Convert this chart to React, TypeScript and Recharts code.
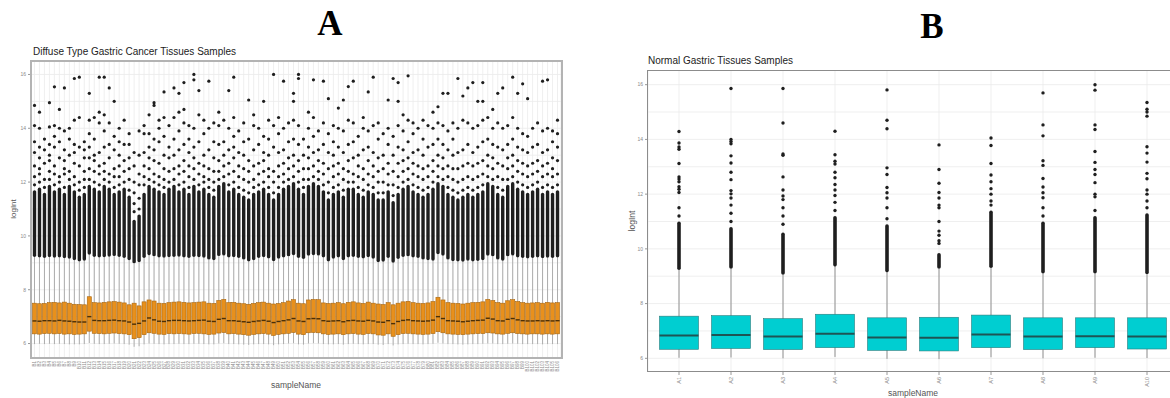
import { ComposedChart, Bar, XAxis, YAxis, CartesianGrid } from "recharts";

// ---------- panel A: diffuse type gastric cancer (106 samples) ----------
const aNames = [
  "B1","B2","B3","B4","B5","B6","B7","B8","B9","B10",
  "B11","B12","B13","B14","B15","B16","B17","B18","B19","B20",
  "B21","B22","B23","B24","B25","B26","B27","B28","B29","B30",
  "B31","B32","B33","B34","B35","B36","B37","B38","B39","B40",
  "B41","B42","B43","B44","B45","B46","B47","B48","B49","B50",
  "B51","B52","B53","B54","B55","B56","B57","B58","B59","B60",
  "B61","B62","B63","B64","B65","B66","B67","B68","B69","B70",
  "B71","B72","B73","B74","B75","B76","B77","B78","B79","B80",
  "B81","B82","B83","B84","B85","B86","B87","B88","B89","B90",
  "B91","B92","B93","B94","B95","B96","B97","B98","B99","B100",
  "B101","B102","B103","B104","B105","B106",
];
const aLow = [
  5.98,5.99,5.98,5.99,5.98,5.99,5.98,5.97,5.97,5.97,
  5.98,6.02,5.99,5.98,5.98,5.99,6.0,5.99,5.98,5.96,
  5.88,5.9,5.97,6.0,5.99,5.98,5.97,5.98,5.98,5.99,
  5.98,5.98,5.99,5.99,5.98,5.97,5.97,6.0,6.01,5.98,
  5.98,5.97,5.96,5.95,5.97,5.98,5.98,5.97,5.94,5.97,
  5.98,6.0,6.01,5.97,5.96,6.0,6.01,6.0,5.98,5.97,
  5.97,5.98,5.96,5.98,5.99,5.98,5.97,5.98,5.98,5.96,
  5.95,5.98,5.93,5.97,5.98,5.99,5.98,5.98,5.97,5.98,
  5.99,6.03,6.0,5.98,5.98,5.97,5.96,5.97,5.98,5.98,
  5.99,6.0,6.0,5.98,5.98,5.99,6.0,5.99,5.98,5.98,
  5.98,5.98,5.97,5.98,5.98,5.98,
];
const aQ1 = [
  6.36,6.35,6.37,6.38,6.36,6.37,6.35,6.36,6.34,6.35,
  6.36,6.46,6.38,6.37,6.36,6.38,6.39,6.37,6.36,6.33,
  6.18,6.22,6.33,6.4,6.38,6.35,6.34,6.37,6.36,6.37,
  6.36,6.35,6.37,6.38,6.36,6.34,6.35,6.39,6.41,6.36,
  6.37,6.35,6.33,6.31,6.34,6.36,6.37,6.35,6.3,6.34,
  6.36,6.38,6.41,6.35,6.33,6.4,6.41,6.4,6.36,6.34,
  6.35,6.36,6.33,6.36,6.37,6.35,6.34,6.37,6.36,6.32,
  6.31,6.36,6.27,6.33,6.37,6.38,6.36,6.35,6.34,6.35,
  6.37,6.44,6.4,6.36,6.35,6.34,6.33,6.35,6.36,6.37,
  6.37,6.4,6.39,6.36,6.35,6.38,6.4,6.37,6.36,6.35,
  6.36,6.36,6.35,6.36,6.35,6.36,
];
const aMed = [
  6.84,6.83,6.85,6.85,6.84,6.86,6.84,6.83,6.81,6.8,
  6.8,7.0,6.86,6.85,6.85,6.86,6.87,6.85,6.84,6.8,
  6.72,6.75,6.84,6.95,6.88,6.83,6.82,6.85,6.86,6.86,
  6.85,6.84,6.85,6.86,6.87,6.83,6.82,6.9,6.93,6.85,
  6.85,6.83,6.81,6.79,6.82,6.84,6.86,6.83,6.78,6.82,
  6.85,6.88,6.93,6.84,6.82,6.92,6.93,6.92,6.85,6.83,
  6.84,6.85,6.81,6.85,6.86,6.84,6.83,6.86,6.84,6.8,
  6.79,6.85,6.74,6.82,6.86,6.88,6.85,6.84,6.83,6.84,
  6.87,7.0,6.93,6.85,6.84,6.83,6.81,6.83,6.85,6.86,
  6.87,6.94,6.91,6.85,6.84,6.9,6.93,6.88,6.85,6.84,
  6.84,6.85,6.84,6.85,6.84,6.85,
];
const aQ3 = [
  7.5,7.48,7.49,7.52,7.53,7.51,7.54,7.5,7.46,7.45,
  7.44,7.74,7.52,7.51,7.53,7.55,7.56,7.54,7.51,7.44,
  7.5,7.4,7.55,7.62,7.58,7.5,7.49,7.52,7.54,7.55,
  7.53,7.51,7.52,7.54,7.55,7.5,7.49,7.6,7.64,7.52,
  7.53,7.5,7.48,7.46,7.49,7.52,7.54,7.5,7.47,7.49,
  7.52,7.58,7.63,7.5,7.48,7.62,7.64,7.63,7.51,7.49,
  7.5,7.52,7.48,7.53,7.55,7.51,7.49,7.54,7.5,7.47,
  7.45,7.52,7.44,7.5,7.55,7.57,7.52,7.5,7.49,7.51,
  7.56,7.72,7.62,7.52,7.5,7.49,7.47,7.5,7.52,7.53,
  7.55,7.64,7.6,7.52,7.5,7.59,7.63,7.56,7.52,7.5,
  7.51,7.52,7.5,7.53,7.51,7.52,
];
const aHigh = [
  9.22,9.2,9.18,9.21,9.19,9.2,9.17,9.15,9.1,9.05,
  9.08,9.3,9.22,9.2,9.21,9.23,9.25,9.22,9.18,9.1,
  8.98,9.02,9.18,9.28,9.24,9.2,9.19,9.21,9.22,9.23,
  9.2,9.18,9.22,9.21,9.19,9.12,9.1,9.25,9.27,9.2,
  9.21,9.18,9.12,9.05,9.1,9.18,9.21,9.16,9.06,9.15,
  9.2,9.24,9.28,9.18,9.14,9.26,9.28,9.27,9.2,9.05,
  9.15,9.2,9.1,9.2,9.22,9.18,9.16,9.21,9.15,9.02,
  9.04,9.18,9.0,9.14,9.22,9.24,9.2,9.18,9.12,9.1,
  9.08,9.32,9.26,9.12,9.06,9.05,9.04,9.08,9.05,9.07,
  9.1,9.26,9.24,9.12,9.08,9.24,9.27,9.2,9.18,9.16,
  9.18,9.2,9.17,9.19,9.18,9.2,
];
// top of the solid run of outliers above each whisker
const aDense = [
  11.7,11.8,11.6,11.9,11.7,11.8,11.6,11.9,11.7,11.5,
  11.6,11.9,11.8,11.7,11.9,11.8,11.6,11.7,11.8,11.5,
  10.6,10.8,11.6,11.9,11.8,11.7,11.6,11.8,11.9,11.7,
  11.8,11.6,11.9,11.7,11.8,11.6,11.5,11.9,12.0,11.7,
  11.8,11.6,11.5,11.4,11.6,11.7,11.8,11.6,11.4,11.6,
  11.8,11.9,12.0,11.8,11.6,11.9,12.0,11.9,11.7,11.4,
  11.6,11.7,11.5,11.8,11.8,11.6,11.5,11.7,11.6,11.4,
  11.4,11.7,11.3,11.6,11.8,11.9,11.7,11.6,11.5,11.6,
  11.8,12.0,11.9,11.6,11.5,11.4,11.5,11.6,11.5,11.6,
  11.7,12.0,11.9,11.6,11.5,11.9,12.0,11.8,11.7,11.6,
  11.7,11.8,11.6,11.7,11.6,11.7,
];
// scattered outliers above the solid run
const aOut = [
  [11.9,12.2,12.6,13.1,13.5,14.1,14.85],
  [12.0,12.3,12.5,12.9,13.3,14.0,14.6],
  [11.8,12.1,12.7,13.2,13.6],
  [12.1,12.4,12.8,13.0,13.4,14.05,14.95],
  [11.9,12.3,12.6,13.3,13.7,14.1,15.54],
  [12.0,12.2,12.9,13.5,14.0,14.7],
  [11.8,12.3,12.5,12.8,13.2,13.9,15.5],
  [12.1,12.4,13.0,13.6,14.0],
  [11.9,12.2,12.7,13.1,13.4,14.3,15.85],
  [11.7,12.0,12.6,13.3,14.4,15.9],
  [11.8,12.1,12.4,12.9,13.2,13.5],
  [12.1,12.5,12.9,13.3,13.8,14.3,15.3],
  [12.0,12.4,12.8,13.0,13.6,14.4],
  [11.9,12.3,12.6,13.1,14.2,14.6,15.9],
  [12.1,12.4,12.7,13.3,13.9,14.5,15.9],
  [12.0,12.3,12.9,13.4,14.2,15.5],
  [11.8,12.2,12.5,13.2,13.7,15.0],
  [11.9,12.2,12.6,13.0,13.5,14.0],
  [12.0,12.4,12.8,13.4,14.3],
  [11.7,12.1,12.5,12.9,13.4,13.8],
  [10.9,11.2,11.6,12.0,12.6,13.1],
  [11.0,11.4,11.9,12.3,13.0,13.9],
  [11.9,12.2,12.6,13.1,13.8,14.1],
  [12.1,12.5,12.9,13.3,13.8,14.5],
  [12.0,12.3,12.8,13.2,13.6,14.85,14.95],
  [11.9,12.2,12.7,13.5,14.0,14.3],
  [11.8,12.1,12.5,13.0,13.7,14.4,15.35],
  [12.0,12.4,12.9,13.3,14.1],
  [12.1,12.5,13.0,13.6,14.4,15.5],
  [11.9,12.3,12.6,13.2,13.9,14.6,15.3],
  [12.0,12.4,12.8,13.4,14.2,14.7,15.7],
  [11.8,12.2,12.6,13.1,13.6,14.1],
  [12.1,12.5,12.9,13.3,14.0,15.8,16.0],
  [11.9,12.3,12.7,13.5,14.5,15.4],
  [12.0,12.2,12.6,13.0,13.8,14.3],
  [11.8,12.1,12.5,13.2,14.0,15.75],
  [11.7,12.0,12.4,12.9,13.5,14.2],
  [12.1,12.4,12.8,13.4,14.1,14.6],
  [12.2,12.6,13.0,13.5,14.3],
  [11.9,12.3,12.7,13.2,14.0,15.4],
  [12.0,12.4,12.9,13.3,13.7,14.4,15.9],
  [11.8,12.2,12.6,13.1,13.9],
  [11.7,12.1,12.5,13.0,13.5,14.2],
  [11.6,12.0,12.4,12.8,13.6,15.05],
  [11.8,12.1,12.6,13.2,14.1,14.5],
  [11.9,12.3,12.7,13.4,14.0],
  [12.0,12.4,12.8,13.1,13.7,15.0],
  [11.8,12.2,12.5,13.0,13.6,14.3],
  [11.6,12.0,12.4,13.3,14.1,16.0],
  [11.8,12.2,12.6,13.1,13.8,14.4],
  [12.0,12.3,12.7,13.2,14.0,15.75],
  [12.1,12.5,12.9,13.5,14.2],
  [12.2,12.6,13.0,13.6,14.3,15.0,15.3],
  [12.0,12.4,12.8,13.4,14.1,15.85,16.0],
  [11.8,12.1,12.5,13.0,13.6],
  [12.1,12.5,12.9,13.3,14.0,14.6],
  [12.2,12.6,13.1,13.7,14.4,15.8],
  [12.1,12.4,12.8,13.2,13.9],
  [11.9,12.3,12.7,13.4,14.2,15.75],
  [11.6,12.0,12.5,13.1,13.8,15.1],
  [11.8,12.2,12.6,13.0,13.5,14.1],
  [11.9,12.3,12.7,13.3,14.0,14.75],
  [11.7,12.1,12.5,13.1,13.9,15.05],
  [12.0,12.4,12.8,13.4,14.3,15.55],
  [12.0,12.3,12.9,13.5,14.2,15.75],
  [11.8,12.2,12.6,13.0,13.7],
  [11.7,12.1,12.5,13.2,14.0,14.4],
  [11.9,12.3,12.8,13.3,13.9,15.35],
  [11.8,12.2,12.6,13.1,14.1,15.9],
  [11.6,12.0,12.4,12.9,13.6,14.2],
  [11.6,12.0,12.5,13.0,13.8],
  [11.9,12.3,12.7,13.4,14.0,15.05],
  [11.5,11.9,12.4,13.0,13.7,15.85],
  [11.8,12.2,12.7,13.3,14.1,15.0,15.7],
  [12.0,12.4,12.8,13.2,13.9,14.5],
  [12.1,12.5,12.9,13.5,14.3,15.95],
  [11.9,12.3,12.7,13.1,13.8,14.2],
  [11.8,12.2,12.6,13.2,14.0],
  [11.7,12.1,12.5,13.0,13.6,14.3],
  [11.8,12.2,12.6,13.3,14.1],
  [12.0,12.4,12.8,13.4,14.0,14.6],
  [12.2,12.6,13.0,13.6,14.2,14.8],
  [12.1,12.5,12.9,13.4,14.1,15.3],
  [11.8,12.2,12.6,13.2,13.9,15.3],
  [11.7,12.1,12.5,13.0,13.6,14.2],
  [11.6,12.0,12.5,13.1,14.0,15.85],
  [11.7,12.1,12.6,13.2,14.3,15.2],
  [11.8,12.2,12.7,13.4,14.2,15.5],
  [11.7,12.1,12.6,13.1,14.0,15.7],
  [11.8,12.2,12.7,13.3,14.1,15.0],
  [11.9,12.3,12.8,13.5,14.3,15.0,15.7],
  [12.2,12.6,13.0,13.6,14.4],
  [12.1,12.5,12.9,13.4,14.0,14.7],
  [11.8,12.2,12.7,13.3,14.2,15.3],
  [11.7,12.1,12.6,13.2,14.0,15.5],
  [12.1,12.5,12.9,13.4,14.1],
  [12.2,12.6,13.0,13.6,14.4,15.9],
  [12.0,12.4,12.8,13.3,14.0,15.3],
  [11.9,12.3,12.7,13.2,13.8,15.65],
  [11.8,12.2,12.6,13.1,13.7,15.1],
  [11.9,12.3,12.7,13.3,14.0],
  [12.0,12.4,12.8,13.4,14.2],
  [11.8,12.2,12.6,13.1,13.9,15.75],
  [11.9,12.3,12.7,13.2,14.0,15.8],
  [11.8,12.2,12.5,12.9,13.5,13.9],
  [11.9,12.3,12.8,13.3,13.8,14.3],
];

// ---------- panel B: normal gastric tissue (10 samples) ----------
const bNames = ["A1", "A2", "A3", "A4", "A5", "A6", "A7", "A8", "A9", "A10"];
const bLow = [6.02, 6.03, 6.0, 6.05, 5.98, 5.97, 6.04, 6.0, 6.02, 6.01];
const bQ1 = [6.33, 6.36, 6.32, 6.39, 6.29, 6.27, 6.39, 6.32, 6.39, 6.34];
const bMed = [6.83, 6.85, 6.8, 6.9, 6.76, 6.75, 6.87, 6.8, 6.81, 6.8];
const bQ3 = [7.54, 7.56, 7.45, 7.61, 7.48, 7.5, 7.58, 7.48, 7.48, 7.48];
const bHigh = [9.23, 9.27, 9.05, 9.35, 9.14, 9.27, 9.3, 9.1, 9.1, 9.07];
const bDense = [11.0, 10.8, 10.6, 11.2, 10.9, 9.85, 11.4, 11.0, 11.2, 11.3];
const bOut = [
  [11.2, 11.5, 12.06, 12.18, 12.27, 12.45, 12.55, 12.63, 13.12, 13.64, 13.72, 13.87, 14.29],
  [11.0, 11.3, 11.6, 11.86, 12.01, 12.13, 12.53, 12.8, 13.14, 13.4, 13.84, 13.92, 14.0, 15.86],
  [10.9, 11.2, 11.5, 11.8, 11.93, 12.15, 12.63, 13.42, 13.47, 14.6, 15.86],
  [11.4, 11.7, 11.95, 12.15, 12.35, 12.6, 12.8, 13.1, 13.2, 13.44, 14.3],
  [11.1, 11.5, 11.86, 12.05, 12.24, 12.72, 12.96, 14.39, 14.7, 15.81],
  [10.2, 10.3, 10.5, 10.65, 11.0, 11.5, 11.6, 11.86, 12.06, 12.4, 12.9, 13.8],
  [11.6, 11.75, 12.0, 12.2, 12.45, 12.7, 13.12, 13.78, 14.05],
  [11.2, 11.5, 11.87, 12.05, 12.26, 12.57, 13.05, 13.22, 14.13, 14.53, 15.7],
  [11.4, 11.9, 12.0, 12.42, 12.72, 12.9, 13.16, 13.56, 14.36, 14.53, 15.8, 16.0],
  [11.5, 11.75, 12.0, 12.15, 12.56, 12.76, 13.17, 13.5, 13.73, 14.85, 15.0, 15.1, 15.35],
];

const yTicks = [6, 8, 10, 12, 14, 16];
const gridValues = [6, 7, 8, 9, 10, 11, 12, 13, 14, 15, 16];

const toRows = (
  names: string[], lo: number[], q1: number[], med: number[], q3: number[],
  hi: number[], dense: number[], out: number[][]
) =>
  names.map((name, i) => ({
    name,
    lo: lo[i],
    q1: q1[i],
    med: med[i],
    q3: q3[i],
    hi: hi[i],
    dense: dense[i],
    out: out[i],
    top: Math.max(dense[i], ...out[i]),
  }));

const rowsA = toRows(aNames, aLow, aQ1, aMed, aQ3, aHigh, aDense, aOut);
const rowsB = toRows(bNames, bLow, bQ1, bMed, bQ3, bHigh, bDense, bOut);

type BoxStyle = {
  boxFrac: number;
  fill: string;
  stroke: string;
  median: string;
  medianW: number;
  whisker: string;
  r: number;
  denseW: number;
};

// one bar spans lo..top; everything inside is placed on that bar's scale
const boxShape = (st: BoxStyle) => (props: any) => {
  const { x, y, width, height, payload: p } = props;
  if (!p) return null;
  const top = Math.min(y, y + height);
  const h = Math.abs(height);
  const yOf = (v: number) => top + (h * (p.top - v)) / (p.top - p.lo);
  const cx = x + width / 2;
  const bw = width * st.boxFrac;
  return (
    <g>
      <line x1={cx} x2={cx} y1={yOf(p.lo)} y2={yOf(p.hi)} stroke={st.whisker} strokeWidth={0.8} />
      <rect
        x={cx - bw / 2}
        y={yOf(p.q3)}
        width={bw}
        height={yOf(p.q1) - yOf(p.q3)}
        fill={st.fill}
        stroke={st.stroke}
        strokeWidth={0.6}
      />
      <line x1={cx - bw / 2} x2={cx + bw / 2} y1={yOf(p.med)} y2={yOf(p.med)} stroke={st.median} strokeWidth={st.medianW} />
      <rect
        x={cx - st.denseW / 2}
        y={yOf(p.dense)}
        width={st.denseW}
        height={yOf(p.hi) - yOf(p.dense)}
        rx={st.denseW / 2}
        fill="#1e1e1e"
      />
      {p.out.map((v: number, i: number) => (
        <circle key={i} cx={cx} cy={yOf(v)} r={st.r} fill="#1e1e1e" />
      ))}
    </g>
  );
};

const styleA: BoxStyle = {
  boxFrac: 0.82, fill: "#E8901C", stroke: "#A8660F", median: "#4a2f08", medianW: 1.4,
  whisker: "#9a9a9a", r: 1.6, denseW: 3.4,
};
const styleB: BoxStyle = {
  boxFrac: 0.75, fill: "#00CED1", stroke: "#2B7C7C", median: "#1E5454", medianW: 2,
  whisker: "#7a7a7a", r: 1.7, denseW: 3.6,
};

const RotTick = ({ x, y, payload, fs }: any) => (
  <text
    x={x}
    y={y}
    transform={`rotate(-90 ${x} ${y})`}
    textAnchor="end"
    dominantBaseline="central"
    fontSize={fs}
    fill="#8a8a8a"
  >
    {payload.value}
  </text>
);

const font = '"Liberation Sans", Arial, sans-serif';

const abs = (s: any) => ({ position: "absolute" as const, ...s });

export default function App() {
  return (
    <div style={abs({ left: 0, top: 0, width: 1170, height: 398, overflow: "hidden", background: "#fff", fontFamily: font })}>
      <div style={abs({ left: 290, top: 6, width: 80, textAlign: "center", font: 'bold 35px "Liberation Serif", serif', lineHeight: 1 })}>A</div>
      <div style={abs({ left: 892, top: 9, width: 80, textAlign: "center", font: 'bold 35px "Liberation Serif", serif', lineHeight: 1 })}>B</div>
      <div style={abs({ left: 33, top: 47, fontSize: 10, lineHeight: 1, color: "#222", whiteSpace: "nowrap" })}>
        Diffuse Type Gastric Cancer Tissues Samples
      </div>
      <div style={abs({ left: 648, top: 56, fontSize: 10, lineHeight: 1, color: "#222", whiteSpace: "nowrap" })}>
        Normal Gastric Tissues Samples
      </div>

      <div style={abs({ left: 0, top: 0 })}>
        <ComposedChart width={570} height={398} data={rowsA} margin={{ top: 61, right: 9, bottom: 21, left: 0 }} barCategoryGap={0}>
          <CartesianGrid stroke="#ebebeb" strokeWidth={0.8} horizontalValues={gridValues} />
          <XAxis
            dataKey="name"
            interval={0}
            height={20}
            axisLine={false}
            tickSize={2}
            tickLine={{ stroke: "#999" }}
            padding={{ left: 1, right: 1 }}
            tick={<RotTick fs={4.5} />}
          />
          <YAxis
            type="number"
            domain={[5.5, 16.5]}
            ticks={yTicks}
            width={31}
            axisLine={false}
            tickSize={3}
            tickLine={{ stroke: "#999" }}
            tick={{ fontSize: 5, fill: "#8a8a8a" }}
            allowDataOverflow
          />
          <Bar dataKey={(d: any) => [d.lo, d.top]} shape={boxShape(styleA)} isAnimationActive={false} />
        </ComposedChart>
      </div>
      <div style={abs({ left: 30, top: 60, width: 529, height: 295, border: "2px solid #b3b3b3" })} />

      <div style={abs({ left: 600, top: 0 })}>
        <ComposedChart width={600} height={398} data={rowsB} margin={{ top: 71, right: 22, bottom: 6, left: 0 }} barCategoryGap={0}>
          <CartesianGrid stroke="#ebebeb" strokeWidth={0.8} horizontalValues={gridValues} />
          <XAxis
            dataKey="name"
            interval={0}
            height={20}
            axisLine={false}
            tickSize={3}
            tickLine={{ stroke: "#999" }}
            padding={{ left: 5, right: 5 }}
            tick={<RotTick fs={5.5} />}
          />
          <YAxis
            type="number"
            domain={[5.5, 16.5]}
            ticks={yTicks}
            width={48}
            axisLine={false}
            tickSize={3}
            tickLine={{ stroke: "#999" }}
            tick={{ fontSize: 5, fill: "#8a8a8a" }}
            allowDataOverflow
          />
          <Bar dataKey={(d: any) => [d.lo, d.top]} shape={boxShape(styleB)} isAnimationActive={false} />
        </ComposedChart>
      </div>
      <div style={abs({ left: 647, top: 70, width: 600, height: 300, border: "1.5px solid #8c8c8c" })} />

      <div style={abs({ left: 13, top: 209, transform: "translate(-50%, -50%) rotate(-90deg)", fontSize: 8, color: "#555", whiteSpace: "nowrap" })}>
        logInt
      </div>
      <div style={abs({ left: 632, top: 221, transform: "translate(-50%, -50%) rotate(-90deg)", fontSize: 8.5, color: "#555", whiteSpace: "nowrap" })}>
        logInt
      </div>
      <div style={abs({ left: 296, top: 385, transform: "translate(-50%, -50%)", fontSize: 8.5, color: "#555", whiteSpace: "nowrap" })}>
        sampleName
      </div>
      <div style={abs({ left: 913, top: 393, transform: "translate(-50%, -50%)", fontSize: 8.5, color: "#555", whiteSpace: "nowrap" })}>
        sampleName
      </div>
    </div>
  );
}
